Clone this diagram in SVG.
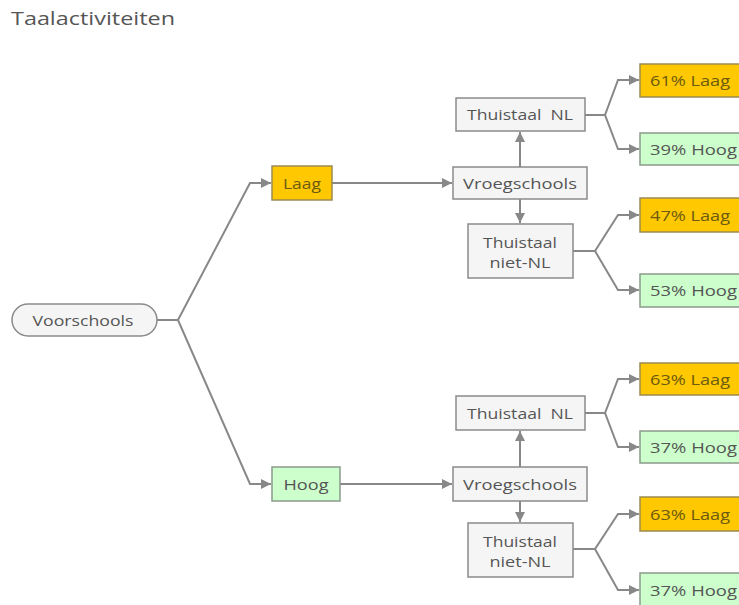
<svg xmlns="http://www.w3.org/2000/svg" width="739" height="605" viewBox="0 0 739 605">
<style>
text{font-family:"Open Sans","Noto Sans","DejaVu Sans",sans-serif;font-size:15px;fill:#555;text-anchor:middle;dominant-baseline:central;white-space:pre}
.title{font-size:19px;text-anchor:start;dominant-baseline:auto;fill:#555}
.l{text-anchor:start}
.g{fill:#f5f5f5;stroke:#8a8a8a;stroke-width:1.5}
.o{fill:#ffc800;stroke:#9a8a50;stroke-width:1.5}
.gr{fill:#ccffcc;stroke:#8a9a8a;stroke-width:1.5}
.ot{fill:#6b5a10}
.c{fill:none;stroke:#888;stroke-width:2}
</style>
<defs>
<marker id="a" viewBox="0 0 10 10" refX="10" refY="5" markerWidth="10" markerHeight="10" markerUnits="userSpaceOnUse" orient="auto">
<path d="M0,0 L10,5 L0,10 Z" fill="#888"/>
</marker>
</defs>
<rect width="739" height="605" fill="#fff"/>
<text class="title" x="11" y="25" textLength="164" lengthAdjust="spacingAndGlyphs">Taalactiviteiten</text>
<g id="connectors">
<path class="c" d="M157,320 H178 L250,183 H271" marker-end="url(#a)"/>
<path class="c" d="M157,320 H178 L250,484 H271" marker-end="url(#a)"/>
<path class="c" d="M332,183 H452" marker-end="url(#a)"/>
<path class="c" d="M340,484 H452" marker-end="url(#a)"/>
<path class="c" d="M520,167 V132" marker-end="url(#a)"/>
<path class="c" d="M520,199 V223" marker-end="url(#a)"/>
<path class="c" d="M520,467 V431" marker-end="url(#a)"/>
<path class="c" d="M520,501 V522" marker-end="url(#a)"/>
<path class="c" d="M585,115 H605 L618,80 H639" marker-end="url(#a)"/>
<path class="c" d="M585,115 H605 L618,149 H639" marker-end="url(#a)"/>
<path class="c" d="M573,251 H595 L618,215 H639" marker-end="url(#a)"/>
<path class="c" d="M573,251 H595 L618,290 H639" marker-end="url(#a)"/>
<path class="c" d="M585,413 H605 L618,379 H639" marker-end="url(#a)"/>
<path class="c" d="M585,413 H605 L618,447 H639" marker-end="url(#a)"/>
<path class="c" d="M573,549 H595 L618,514 H639" marker-end="url(#a)"/>
<path class="c" d="M573,549 H595 L618,590 H639" marker-end="url(#a)"/>
</g>
<g id="voorschools"><rect class="g" x="12" y="304" width="145" height="32" rx="16"/><text x="83" y="320" textLength="101" lengthAdjust="spacingAndGlyphs">Voorschools</text></g>
<g id="laag"><rect class="o" x="272" y="166" width="60" height="34"/><text class="ot" x="302" y="183" textLength="38" lengthAdjust="spacingAndGlyphs">Laag</text></g>
<g id="hoog"><rect class="gr" x="272" y="467" width="68" height="34"/><text x="306" y="484" textLength="45" lengthAdjust="spacingAndGlyphs">Hoog</text></g>
<g id="vroeg1"><rect class="g" x="453" y="167" width="134" height="32"/><text x="520" y="183" textLength="114" lengthAdjust="spacingAndGlyphs">Vroegschools</text></g>
<g id="thnl1"><rect class="g" x="456" y="98" width="129" height="33"/><text x="520" y="114" textLength="106" lengthAdjust="spacingAndGlyphs">Thuistaal  NL</text></g>
<g id="thniet1"><rect class="g" x="468" y="224" width="105" height="54"/><text x="520" y="242" textLength="74" lengthAdjust="spacingAndGlyphs">Thuistaal</text><text x="520" y="262" textLength="61" lengthAdjust="spacingAndGlyphs">niet-NL</text></g>
<g id="r61"><rect class="o" x="640" y="64" width="110" height="33"/><text class="ot l" x="650" y="80" textLength="80" lengthAdjust="spacingAndGlyphs">61% Laag</text></g>
<g id="r39"><rect class="gr" x="640" y="133" width="110" height="32"/><text class="l" x="650" y="149" textLength="87" lengthAdjust="spacingAndGlyphs">39% Hoog</text></g>
<g id="r47"><rect class="o" x="640" y="198" width="110" height="34"/><text class="ot l" x="650" y="215" textLength="80" lengthAdjust="spacingAndGlyphs">47% Laag</text></g>
<g id="r53"><rect class="gr" x="640" y="274" width="110" height="33"/><text class="l" x="650" y="290" textLength="87" lengthAdjust="spacingAndGlyphs">53% Hoog</text></g>
<g id="vroeg2"><rect class="g" x="453" y="467" width="134" height="34"/><text x="520" y="484" textLength="114" lengthAdjust="spacingAndGlyphs">Vroegschools</text></g>
<g id="thnl2"><rect class="g" x="456" y="396" width="129" height="34"/><text x="520" y="413" textLength="106" lengthAdjust="spacingAndGlyphs">Thuistaal  NL</text></g>
<g id="thniet2"><rect class="g" x="468" y="523" width="105" height="54"/><text x="520" y="541" textLength="74" lengthAdjust="spacingAndGlyphs">Thuistaal</text><text x="520" y="561" textLength="61" lengthAdjust="spacingAndGlyphs">niet-NL</text></g>
<g id="r63a"><rect class="o" x="640" y="363" width="110" height="32"/><text class="ot l" x="650" y="379" textLength="80" lengthAdjust="spacingAndGlyphs">63% Laag</text></g>
<g id="r37a"><rect class="gr" x="640" y="431" width="110" height="32"/><text class="l" x="650" y="447" textLength="87" lengthAdjust="spacingAndGlyphs">37% Hoog</text></g>
<g id="r63b"><rect class="o" x="640" y="497" width="110" height="34"/><text class="ot l" x="650" y="514" textLength="80" lengthAdjust="spacingAndGlyphs">63% Laag</text></g>
<g id="r37b"><rect class="gr" x="640" y="573" width="110" height="34"/><text class="l" x="650" y="590" textLength="87" lengthAdjust="spacingAndGlyphs">37% Hoog</text></g>
</svg>
